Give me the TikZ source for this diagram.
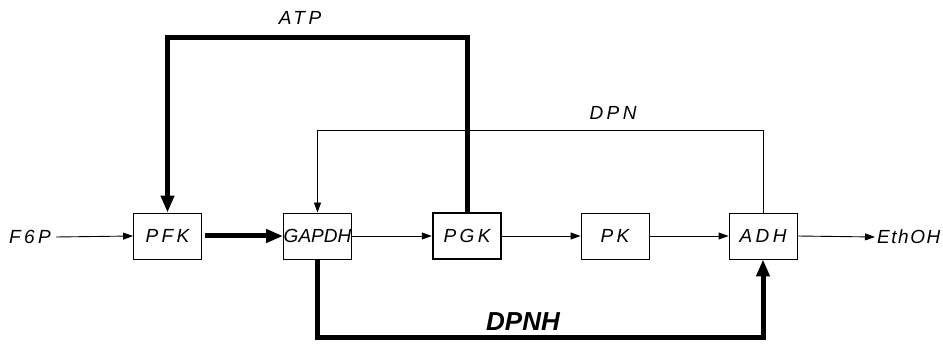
\documentclass[tikz,border=0pt]{standalone}
\usepackage{fontspec}
\setmainfont{Liberation Sans}
\newfontfamily\spaced[LetterSpace=18]{Liberation Sans}
\newfontfamily\lightspaced[LetterSpace=8]{Liberation Sans}
\usetikzlibrary{arrows.meta}
\tikzset{
  lbl/.style={font=\spaced\itshape\fontsize{19}{20}\selectfont, inner sep=0pt},
  box/.style={draw, line width=0.9pt, minimum width=68pt, minimum height=46pt, inner sep=0pt, font=\spaced\itshape\fontsize{19}{20}\selectfont},
  thinarrow/.style={line width=0.9pt, -{Triangle[length=10pt,width=7pt]}},
  bigarrow/.style={line width=5pt, -{Triangle[length=17pt,width=13pt]}},
}
\begin{document}
\begin{tikzpicture}[x=1pt,y=-1pt]
\useasboundingbox (0,0) rectangle (943,344);
\node[lbl] (f6p) at (30,237) {F6P};
\node[box] (pfk) at (167.5,236) {PFK};
\node[box, font=\itshape\fontsize{19}{20}\selectfont] (gapdh) at (317.5,236) {GAPDH};
\node[box, line width=2.5pt] (pgk) at (467,236) {PGK};
\node[box] (pk) at (615,236) {PK};
\node[box] (adh) at (763,236) {ADH};
\node[lbl, font=\lightspaced\itshape\fontsize{19}{20}\selectfont, anchor=west] (ethoh) at (877,237) {EthOH};
\coordinate (atpy) at (0,38);
\coordinate (dpny) at (0,130);
\coordinate (dpnhy) at (0,338);
\node[lbl] (atp) at (300,18) {ATP};
\node[lbl] (dpn) at (613,113) {DPN};
\node[font=\bfseries\itshape\fontsize{26}{27}\selectfont, inner sep=0pt] (dpnh) at (523,322) {DPNH};
\draw[thinarrow] (f6p.east) ++(5,0) -- (pfk.west);
\draw[bigarrow] (pfk.east) ++(3,0) -- (gapdh.west);
\draw[thinarrow] (gapdh.east) -- (pgk.west);
\draw[thinarrow] (pgk.east) -- (pk.west);
\draw[thinarrow] (pk.east) -- (adh.west);
\draw[thinarrow] (adh.east) -- ([xshift=-2pt]ethoh.west);
\draw[bigarrow] (pgk.north) -- (pgk.north |- atpy) -| (pfk.north);
\draw[thinarrow] (adh.north) -- (adh.north |- dpny) -| (gapdh.north);
\draw[bigarrow] (gapdh.south) -- (gapdh.south |- dpnhy) -| (adh.south);
\end{tikzpicture}
\end{document}
